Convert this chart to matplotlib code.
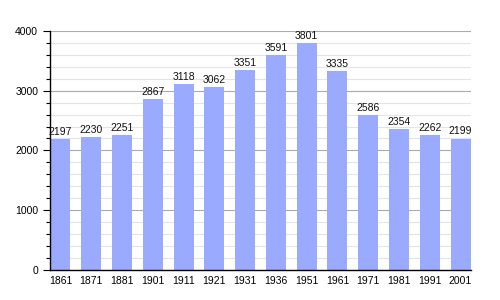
import numpy as np
import matplotlib.pyplot as plt
from matplotlib.ticker import MultipleLocator

plt.rcParams['font.family'] = ['Liberation Sans', 'DejaVu Sans']

years = ['1861', '1871', '1881', '1901', '1911', '1921', '1931',
         '1936', '1951', '1961', '1971', '1981', '1991', '2001']
population = [2197, 2230, 2251, 2867, 3118, 3062, 3351,
              3591, 3801, 3335, 2586, 2354, 2262, 2199]

fig = plt.figure(figsize=(5, 3), dpi=100)
ax = fig.add_axes([0.1, 0.1, 0.842, 0.797])

x = np.arange(len(years))
ax.bar(x, population, width=0.65, color='#99aaff', zorder=2)
for xi, v in zip(x, population):
    ax.text(xi, v + 35, str(v), ha='center', va='bottom', fontsize=7.5,
            color='#111111')

ax.set_xlim(-0.34, len(years) - 1 + 0.34)
ax.set_ylim(0, 4000)
ax.set_xticks(x)
ax.set_xticklabels(years, fontsize=7.5)
ax.yaxis.set_major_locator(MultipleLocator(1000))
ax.yaxis.set_minor_locator(MultipleLocator(200))
ax.tick_params(axis='y', labelsize=7.5, length=5, width=0.8)
ax.tick_params(axis='y', which='minor', length=3, width=0.8)
ax.tick_params(axis='x', length=0, pad=4)

ax.grid(axis='y', which='major', color='#aaaaaa', linewidth=0.8, zorder=0)
ax.grid(axis='y', which='minor', color='#e4e4e4', linewidth=0.8, zorder=0)
ax.set_axisbelow(True)

for s in ['top', 'right']:
    ax.spines[s].set_visible(False)
ax.spines['left'].set_linewidth(1)
ax.spines['bottom'].set_linewidth(1)

fig.savefig('out.png', dpi=100)
